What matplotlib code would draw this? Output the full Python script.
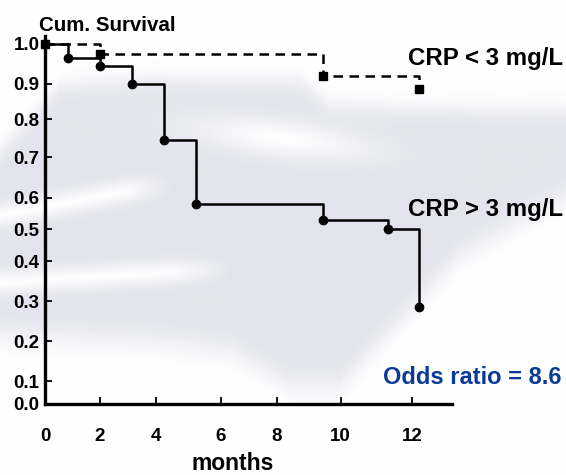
import numpy as np
import matplotlib
matplotlib.use('Agg')
import matplotlib.pyplot as plt

# Kaplan-Meier steps (months, cumulative survival)
crp_high_months = [0, 0.84, 2.0, 3.14, 4.25, 5.23, 9.44, 11.31, 12.17]
crp_high_surv = [1.0, 0.965, 0.945, 0.90, 0.745, 0.58, 0.53, 0.50, 0.285]
crp_low_months = [0, 2.0, 9.44, 12.19]
crp_low_surv = [1.0, 0.975, 0.92, 0.885]

x_ticks = [0, 2, 4, 6, 8, 10, 12]
y_ticks = [0.0, 0.1, 0.2, 0.3, 0.4, 0.5, 0.6, 0.7, 0.8, 0.9, 1.0]

# the original axes are not evenly spaced, so use a piecewise linear scale
X_KNOTS = [-2, 0, 2, 4, 6, 8, 10, 12, 15]
X_POS = [-10, 45, 100, 156, 221, 277, 341, 413, 521]
Y_KNOTS = [-0.2, 0.0, 0.1, 0.2, 0.3, 0.4, 0.5, 0.6, 0.7, 0.8, 0.9, 1.0, 1.3]
Y_POS = [-46, 0, 23, 63, 103, 143, 175, 206, 247, 285, 320, 360, 480]

W, H = 566, 475
LAVENDER = np.array([0.894, 0.894, 0.933])
BLUE = '#0a3a96'


def piecewise_scale(knots, pos):
    def forward(v):
        return np.interp(v, knots, pos)

    def inverse(p):
        return np.interp(p, pos, knots)
    return forward, inverse


def streak(xx, yy, p0, p1, width):
    """Soft white stroke along a segment."""
    p0, p1 = np.array(p0, float), np.array(p1, float)
    d = p1 - p0
    t = np.clip(((xx - p0[0]) * d[0] + (yy - p0[1]) * d[1]) / (d @ d), 0, 1)
    dist = np.hypot(xx - (p0[0] + t * d[0]), yy - (p0[1] + t * d[1]))
    fade = np.clip((1 - t) * 4, 0, 1)
    return np.exp(-(dist / width) ** 2) * fade


def background():
    yy, xx = np.mgrid[0:H, 0:W].astype(float)
    top = np.interp(xx, [0, 60, 150, 300, 330, 400, 566], [150, 85, 78, 80, 105, 108, 110])
    bot = np.interp(xx, [0, 150, 230, 290, 340, 400, 460, 566], [335, 340, 350, 385, 385, 320, 255, 195])
    sig = lambda z: 1 / (1 + np.exp(-z))
    amt = sig((yy - top) / 6) * sig((bot - yy) / 8)
    blob = np.exp(-(((xx - 282) / 85) ** 2 + ((yy - 138 - (xx - 282) * 0.12) / 18) ** 2))
    amt *= 1 - 0.95 * blob
    amt *= 1 - 0.9 * streak(xx, yy, (0, 215), (170, 182), 11)
    amt *= 1 - 0.9 * streak(xx, yy, (0, 282), (230, 268), 11)
    img = 1 - amt[..., None] * (1 - LAVENDER)
    return img


plt.rcParams['font.family'] = ['Liberation Sans', 'DejaVu Sans']
plt.rcParams['font.weight'] = 'bold'

fig = plt.figure(figsize=(W / 100, H / 100), dpi=100)
bg = fig.add_axes([0, 0, 1, 1], zorder=-1)
bg.imshow(background(), extent=[0, W, H, 0], aspect='auto')
bg.axis('off')

ax = fig.add_axes([45 / W, 1 - 404 / H, (452 - 45) / W, (404 - 36) / H])
ax.set_facecolor('none')
ax.set_xscale('function', functions=piecewise_scale(X_KNOTS, X_POS))
ax.set_yscale('function', functions=piecewise_scale(Y_KNOTS, Y_POS))

# CRP > 3 mg/L (solid, circles)
ax.step(crp_high_months, crp_high_surv, where='post', color='black', lw=1.8,
        clip_on=False, zorder=3)
ax.plot(crp_high_months[1:], crp_high_surv[1:], 'o', color='black', ms=6,
        clip_on=False, zorder=4)

# CRP < 3 mg/L (dashed, squares)
ax.step(crp_low_months, crp_low_surv, where='post', color='black', lw=1.8,
        linestyle=(0, (3.8, 2.6)), clip_on=False, zorder=3)
ax.plot(crp_low_months, crp_low_surv, 's', color='black', ms=6,
        clip_on=False, zorder=4)

ax.set_xlim(0, 13.1)
ax.set_ylim(0, 1.02)
ax.set_xticks(x_ticks)
ax.set_xticklabels([str(v) for v in x_ticks])
ax.set_yticks(y_ticks)
ax.set_yticklabels([f'{v:.1f}' for v in y_ticks])
ax.minorticks_off()

for side in ['top', 'right']:
    ax.spines[side].set_visible(False)
for side in ['left', 'bottom']:
    ax.spines[side].set_linewidth(2.4)

ax.tick_params(direction='in', length=5, width=1.3, labelsize=13.5, colors='black')
ax.tick_params(axis='x', pad=17)
ax.tick_params(axis='y', pad=4)


def fx(x):
    return x / W


def fy(y):
    return 1 - y / H


fig.text(fx(39), fy(31), 'Cum. Survival', fontsize=14.8, fontweight='bold', va='baseline')
fig.text(fx(233), fy(470), 'months', fontsize=16.5, fontweight='bold', ha='center', va='baseline')
fig.text(fx(408), fy(65), 'CRP < 3 mg/L', fontsize=17.3, fontweight='bold', va='baseline')
fig.text(fx(408), fy(216), 'CRP > 3 mg/L', fontsize=17.3, fontweight='bold', va='baseline')
fig.text(fx(383), fy(384), 'Odds ratio = 8.6', fontsize=17, fontweight='bold',
         va='baseline', color=BLUE)

fig.savefig('out.png', dpi=100)
